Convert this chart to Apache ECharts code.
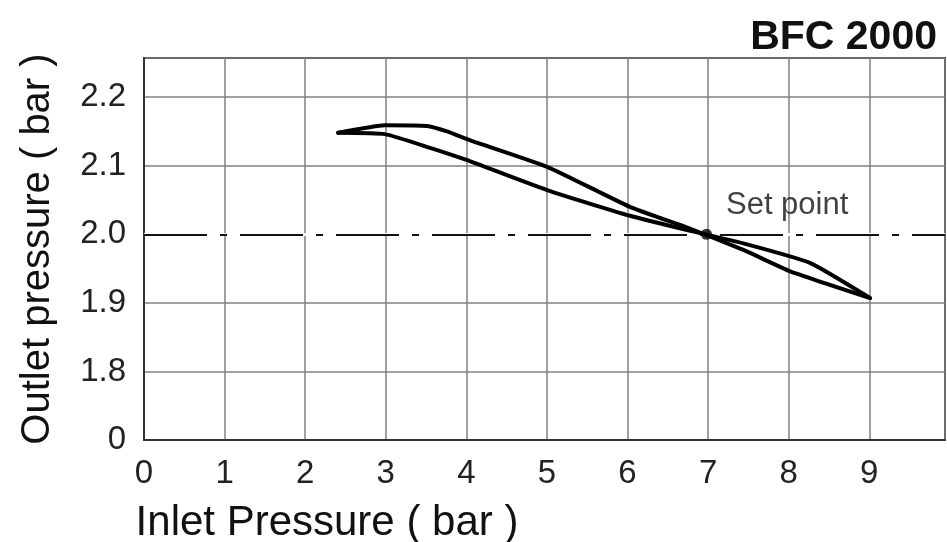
<!DOCTYPE html>
<html>
<head>
<meta charset="utf-8">
<script src="https://cdn.jsdelivr.net/npm/echarts@6/dist/echarts.min.js"></script>
<style>
html,body{margin:0;padding:0;background:#fff;}
#chart{width:947px;height:542px;}
</style>
</head>
<body>
<div id="chart"></div>
<script>
// Branch A: upper on the left, lower on the right
var inletA  = [2.41, 2.99, 3.51, 3.76, 4.05, 5.01, 6.03, 6.78, 7.46, 8.02, 9.01];
var outletA = [2.148, 2.159, 2.158, 2.150, 2.137, 2.098, 2.040, 2.008, 1.976, 1.946, 1.907];
// Branch B: lower on the left, upper on the right
var inletB  = [2.41, 2.99, 3.55, 4.01, 5.01, 6.03, 6.78, 7.46, 8.27, 9.01];
var outletB = [2.148, 2.146, 2.126, 2.108, 2.064, 2.027, 2.005, 1.986, 1.958, 1.907];
var setPoint = [6.98, 2.0];
var setPointLabel = 'Set point';
var yTickLabels = {'1.7': '0', '1.8': '1.8', '1.9': '1.9', '2.0': '2.0', '2.1': '2.1', '2.2': '2.2'};
var chartTitle = 'BFC 2000';
var xName = 'Inlet Pressure ( bar )';
var yName = 'Outlet pressure ( bar )';

function pairs(xs, ys){ return xs.map(function(x,i){ return [x, ys[i]]; }); }

var FONT = '"Liberation Sans", Arial, sans-serif';
var chart = echarts.init(document.getElementById('chart'), null, {renderer:'canvas'});
chart.setOption({
  animation: false,
  backgroundColor: '#fff',
  title: {
    text: chartTitle, right: 5, top: 12,
    textStyle: {fontFamily: FONT, fontWeight: 'bold', fontSize: 41, color: '#111'}
  },
  grid: {left: 144, right: 2, top: 58, bottom: 102, show: true, borderColor: '#333', borderWidth: 2,
    containLabel: false, outerBoundsMode: 'none'},
  xAxis: {
    type: 'value', min: 0, max: 9.94, interval: 1,
    name: xName, nameLocation: 'middle', nameGap: 62,
    nameTextStyle: {fontFamily: FONT, fontSize: 42, color: '#111', padding: [0, 435, 0, 0]},
    axisLine: {show: true, lineStyle: {color: '#333', width: 2}},
    axisTick: {show: false},
    axisLabel: {
      fontFamily: FONT, fontSize: 33, color: '#222', margin: 17,
      formatter: function(v){ return Math.abs(v - Math.round(v)) < 1e-6 ? String(Math.round(v)) : ''; }
    },
    splitLine: {show: true, lineStyle: {color: '#808080', width: 1.5}}
  },
  yAxis: {
    type: 'value', min: 1.7, max: 2.257, interval: 0.1,
    name: yName, nameLocation: 'middle', nameGap: 86, nameRotate: 90,
    nameTextStyle: {fontFamily: FONT, fontSize: 40, color: '#111'},
    axisLine: {show: true, lineStyle: {color: '#333', width: 2}},
    axisTick: {show: false},
    axisLabel: {
      fontFamily: FONT, fontSize: 33, color: '#222', margin: 18,
      formatter: function(v){ var k = v.toFixed(1); return (Math.abs(v - Number(k)) < 1e-6 && yTickLabels[k] !== undefined) ? yTickLabels[k] : ''; }
    },
    splitLine: {show: true, lineStyle: {color: '#808080', width: 1.5}}
  },
  series: [
    {
      type: 'line', data: [], z: 3, silent: true,
      markLine: {
        silent: true, symbol: 'none', label: {show: false},
        lineStyle: {color: '#fff', width: 3, type: 'solid'},
        data: [{yAxis: 2.0}]
      }
    },
    {
      type: 'line', data: [], z: 4, silent: true,
      markLine: {
        silent: true, symbol: 'none', label: {show: false},
        lineStyle: {color: '#111', width: 2, type: [63, 13, 7, 13]},
        data: [{yAxis: 2.0}]
      }
    },
    {
      type: 'line', data: pairs(inletA, outletA), z: 5,
      showSymbol: false, smooth: 0.15,
      lineStyle: {color: '#000', width: 4, join: 'round', cap: 'round'}
    },
    {
      type: 'line', data: pairs(inletB, outletB), z: 5,
      showSymbol: false, smooth: 0.15,
      lineStyle: {color: '#000', width: 4, join: 'round', cap: 'round'}
    },
    {
      type: 'scatter', data: [setPoint], z: 6, symbolSize: 11,
      itemStyle: {color: '#000'},
      label: {show: true, position: 'right', distance: 14, offset: [0, -29],
        formatter: setPointLabel, fontFamily: FONT, fontSize: 31, color: '#111'}
    }
  ]
});
</script>
</body>
</html>
